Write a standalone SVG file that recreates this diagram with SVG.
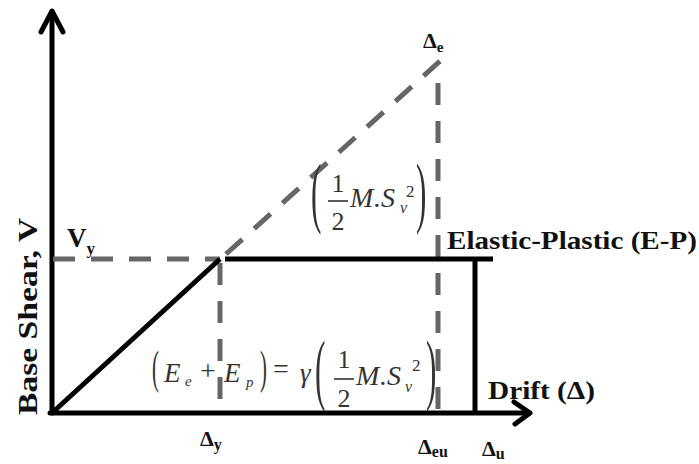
<svg xmlns="http://www.w3.org/2000/svg" width="699" height="464" viewBox="0 0 699 464">
<style>
.ax{stroke:#000;stroke-width:5;fill:none;stroke-linecap:round;stroke-linejoin:round}
.sol{stroke:#000;stroke-width:5;fill:none;stroke-linecap:butt}
.dash{stroke:#666;stroke-width:5;fill:none;stroke-dasharray:22 16}
.lbl{font-family:"Liberation Serif","Times New Roman",serif;font-weight:bold;fill:#111}
.m{font-family:"Liberation Serif","Times New Roman",serif;fill:#333}
.mi{font-family:"Liberation Serif","Times New Roman",serif;font-style:italic;fill:#333}
.bar{stroke:#333;stroke-width:1.6}
</style>
<rect width="699" height="464" fill="#fff"/>
<g id="axes">
<line class="ax" x1="52" y1="413" x2="52" y2="12"/>
<polyline class="ax" points="41,32 52,11 63,32"/>
<line class="ax" x1="50" y1="413" x2="529" y2="413"/>
<polyline class="ax" points="514,402 530,413 515,424"/>
</g>
<g id="connectors">
<line class="dash" x1="53" y1="259" x2="220" y2="259"/>
<line class="dash" x1="220" y1="263" x2="220" y2="413"/>
<line class="dash" x1="226" y1="254" x2="449" y2="53"/>
<line class="dash" x1="438" y1="83" x2="438" y2="413"/>
<line class="sol" x1="52" y1="413" x2="220" y2="259"/>
<line class="sol" x1="225" y1="259" x2="493" y2="259"/>
<line class="sol" x1="475" y1="259" x2="475" y2="413"/>
</g>
<g id="labels">
<text class="lbl" font-size="28" textLength="197" lengthAdjust="spacingAndGlyphs" transform="translate(37,415) rotate(-90)">Base Shear, V</text>
<text class="lbl" x="67" y="247" font-size="27">V<tspan font-size="17" dy="7">y</tspan></text>
<text class="lbl" x="447" y="249" font-size="26" textLength="250" lengthAdjust="spacingAndGlyphs">Elastic-Plastic (E-P)</text>
<text class="lbl" x="488" y="399" font-size="26" textLength="107" lengthAdjust="spacingAndGlyphs">Drift (Δ)</text>
<text class="lbl" x="200" y="446" font-size="22">Δ<tspan font-size="16" dy="4">y</tspan></text>
<text class="lbl" x="418" y="454" font-size="22">Δ<tspan font-size="16" dy="3">eu</tspan></text>
<text class="lbl" x="482" y="456" font-size="22">Δ<tspan font-size="16" dy="3">u</tspan></text>
<text class="lbl" x="423" y="48" font-size="22">Δ<tspan font-size="15" dy="4">e</tspan></text>
</g>
<g id="formula-top">
<text class="m" font-size="78" transform="translate(311,218) scale(0.4,1)">(</text>
<text class="m" x="338" y="192" font-size="26" text-anchor="middle">1</text>
<line class="bar" x1="328" y1="201" x2="348" y2="201"/>
<text class="m" x="338" y="230" font-size="26" text-anchor="middle">2</text>
<text class="mi" x="350" y="207" font-size="28">M</text>
<text class="mi" x="374" y="207" font-size="28">.</text>
<text class="mi" x="381" y="207" font-size="28">S</text>
<text class="mi" x="400" y="213" font-size="16">v</text>
<text class="m" x="406" y="197" font-size="17">2</text>
<text class="m" font-size="78" transform="translate(416,218) scale(0.4,1)">)</text>
</g>
<g id="formula-bottom">
<text class="m" font-size="46" transform="translate(152,383) scale(0.45,1)">(</text>
<text class="mi" x="164" y="382" font-size="27">E</text>
<text class="mi" x="185" y="386" font-size="15">e</text>
<text class="m" x="200" y="380" font-size="28">+</text>
<text class="mi" x="224" y="382" font-size="27">E</text>
<text class="mi" x="246" y="387" font-size="15">p</text>
<text class="m" font-size="46" transform="translate(260,383) scale(0.45,1)">)</text>
<text class="m" x="273" y="378" font-size="28">=</text>
<text class="mi" x="300" y="382" font-size="27">γ</text>
<text class="m" font-size="78" transform="translate(315,395) scale(0.4,1)">(</text>
<text class="m" x="344" y="368" font-size="26" text-anchor="middle">1</text>
<line class="bar" x1="334" y1="379" x2="354" y2="379"/>
<text class="m" x="344" y="407" font-size="26" text-anchor="middle">2</text>
<text class="mi" x="356" y="385" font-size="28">M</text>
<text class="mi" x="380" y="385" font-size="28">.</text>
<text class="mi" x="387" y="385" font-size="28">S</text>
<text class="mi" x="405" y="392" font-size="16">v</text>
<text class="m" x="412" y="371" font-size="17">2</text>
<text class="m" font-size="78" transform="translate(426,395) scale(0.4,1)">)</text>
</g>
</svg>
